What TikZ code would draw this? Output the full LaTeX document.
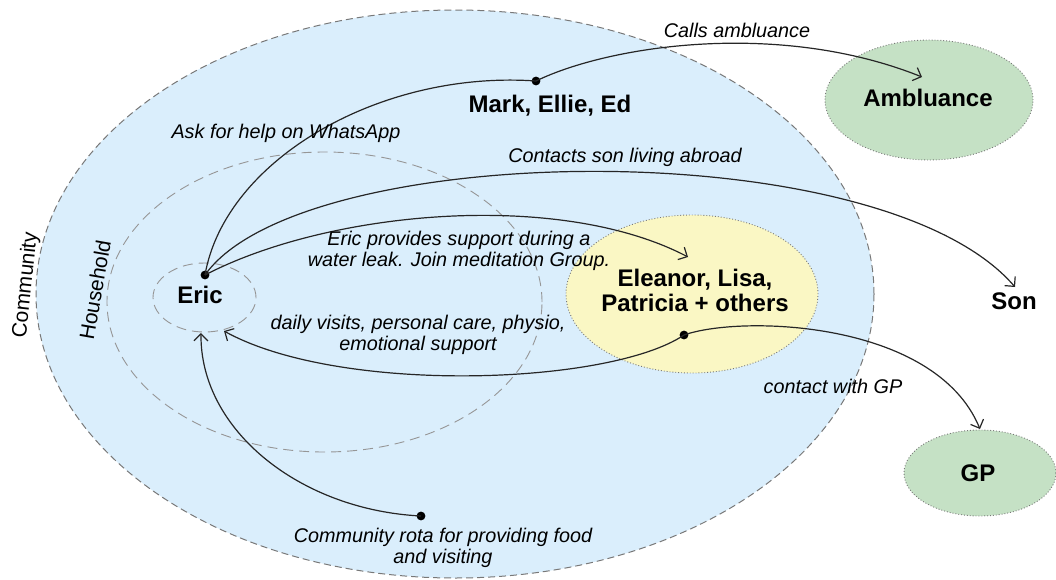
\documentclass[tikz,border=0pt]{standalone}
\usepackage{fontspec}
\setmainfont{Liberation Sans}
\usetikzlibrary{arrows.meta,shapes.geometric}
\definecolor{commblue}{RGB}{218,238,252}
\definecolor{careyellow}{RGB}{250,247,196}
\definecolor{extgreen}{RGB}{197,225,197}
\definecolor{rimgray}{RGB}{120,120,120}
\definecolor{lightrim}{RGB}{150,150,150}
\begin{document}
\begin{tikzpicture}[x=0.5pt,y=-0.5pt,
  zone/.style={ellipse,inner sep=0pt},
  commzone/.style={zone,fill=commblue,draw=rimgray,dash pattern=on 3.5pt off 2pt,line width=0.5pt},
  housezone/.style={zone,draw=lightrim,dash pattern=on 5pt off 3pt,line width=0.45pt},
  actor/.style={zone,draw=rimgray,densely dotted,line width=0.45pt},
  bigname/.style={font=\fontsize{12}{12.5}\selectfont\bfseries,align=center,inner sep=0pt},
  lab/.style={font=\fontsize{9.9}{10.5}\selectfont\itshape,align=center,inner sep=0pt},
  zonelab/.style={font=\fontsize{10.5}{12}\selectfont,inner sep=0pt},
  link/.style={line width=0.6pt,draw=black!85},
  arr/.style={link,-{Straight Barb[length=3.5pt,width=7pt]}},
  dot/.style={circle,fill=black,inner sep=0pt,minimum size=4.4pt}]
\useasboundingbox (0,0) rectangle (1056,579);

% zones
\node[commzone,minimum width=419pt,minimum height=284pt] (community) at (455,294) {};
\node[housezone,minimum width=217.5pt,minimum height=150pt] (household) at (324.5,302) {};
\node[housezone,minimum width=51.5pt,minimum height=34.5pt] (ericzone) at (204.5,297.5) {};
\node[actor,fill=careyellow,minimum width=126pt,minimum height=79pt] (carers) at (692,294) {};
\node[actor,fill=extgreen,minimum width=104pt,minimum height=60pt] (amb) at (929,100) {};
\node[actor,fill=extgreen,minimum width=76pt,minimum height=43pt] (gp) at (980,473) {};

% zone labels
\node[zonelab,rotate=84] (commlab) at (26,285) {Community};
\node[zonelab,rotate=80] (houselab) at (95,290) {Household};

% names
\node[bigname] (eric) at (200,295) {Eric};
\node[bigname] (mark) at (550,106) {Mark, Ellie, Ed};
\node[bigname] (carertext) at (695,290) {Eleanor, Lisa,\\Patricia + others};
\node[bigname] (ambtext) at (928,98) {Ambluance};
\node[bigname] (son) at (1014,301) {Son};
\node[bigname] (gptext) at (978,473) {GP};

% dots and arrow ends
\node[dot] (ericdot) at (205,275) {};
\node[dot] (markdot) at (536,81) {};
\node[dot] (carerdot) at (684,335) {};
\node[dot] (rotadot) at (421,516) {};
\coordinate (ambin) at (922,77);
\coordinate (sonin) at (1015,287);
\coordinate (carerin) at (688,257);
\coordinate (ericin1) at (224,331);
\coordinate (ericin2) at (201,333);
\coordinate (gpin) at (980,429);

% connectors
\draw[link] (ericdot.center) .. controls (225,160) and (380,70) .. (markdot.center);
\draw[arr] (markdot.center) .. controls (610,45) and (780,20) .. (ambin);
\draw[arr] (ericdot.center) .. controls (300,140) and (880,130) .. (sonin);
\draw[arr] (ericdot.center) .. controls (330,210) and (560,190) .. (carerin);
\draw[arr] (carerdot.center) .. controls (610,385) and (340,395) .. (ericin1);
\draw[arr] (carerdot.center) .. controls (740,315) and (935,320) .. (gpin);
\draw[arr] (rotadot.center) .. controls (300,510) and (200,430) .. (ericin2);

% connector labels
\node[lab] (l1) at (286,133) {Ask for help on WhatsApp};
\node[lab] (l2) at (737,30) {Calls ambluance};
\node[lab] (l3) at (625,157) {Contacts son living abroad};
\node[lab] (l4) at (459,251) {Eric provides support during a\\water leak. Join meditation Group.};
\node[lab] (l5) at (418,335) {daily visits, personal care, physio,\\emotional support};
\node[lab] (l6) at (833,386) {contact with GP};
\node[lab] (l7) at (443,548) {Community rota for providing food\\and visiting};
\end{tikzpicture}
\end{document}
